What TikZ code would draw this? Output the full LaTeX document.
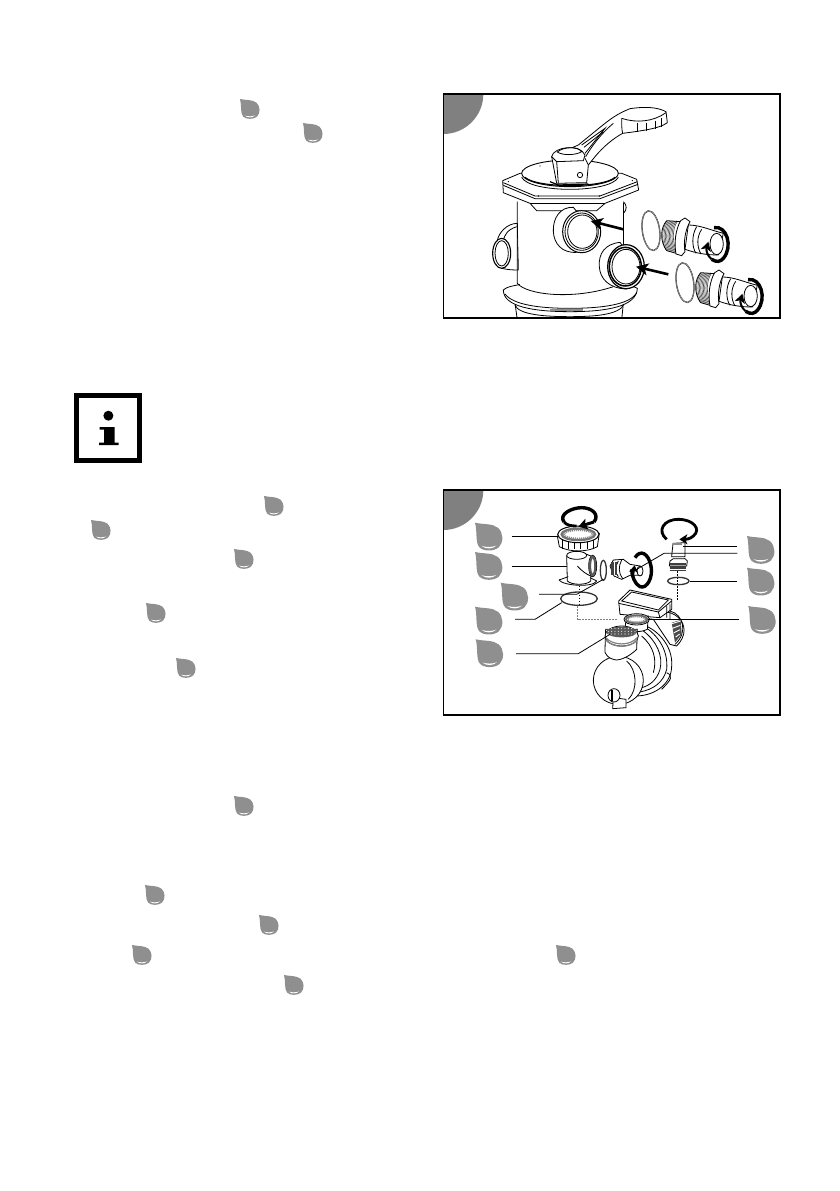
\documentclass[tikz,border=0pt]{standalone}
\usetikzlibrary{arrows.meta}
\definecolor{dropgrey}{gray}{0.56}
\tikzset{
  art/.style={line width=0.8pt,black},
  fillart/.style={art,fill=white},
  panel/.style={draw=black,line width=1.6pt},
  bigarrow/.style={line width=2.6pt,black,-{Stealth[length=12pt,width=12pt,inset=3pt]}},
  turn/.style={line width=3.4pt,black},
  leader/.style={line width=0.8pt,black},
  axis/.style={line width=0.6pt,black,dash pattern=on 1.5pt off 1.5pt},
  faint/.style={line width=0.5pt,gray,dash pattern=on 1.5pt off 1.5pt},
  ring/.style={line width=1.3pt,black!80},
  ringin/.style={line width=0.3pt,black!25},
  zoomA/.style={xshift=440pt,yshift=-90pt,x=0.33333pt,y=-0.33333pt},
  zoomB/.style={xshift=440pt,yshift=-486pt,x=0.33333pt,y=-0.33333pt},
  dropmark/.pic={
    \fill[dropgrey] (0,0) .. controls (0.3,0.07) and (0.62,0.02) .. (0.82,0.18)
      .. controls (1.02,0.36) and (1.03,0.7) .. (0.85,0.88)
      .. controls (0.68,1.03) and (0.3,1.03) .. (0.16,0.88)
      .. controls (0.0,0.72) and (0.09,0.3) .. (0,0) -- cycle;
    \fill[white] (0.24,0.83) .. controls (0.4,0.88) and (0.6,0.88) .. (0.76,0.82)
      .. controls (0.62,0.95) and (0.38,0.95) .. (0.24,0.83) -- cycle;
  },
}
\newcommand{\fittingart}{%
  % o-ring
  \draw[ring,rotate around={8:(633,422)}] (633,422) ellipse [x radius=26,y radius=60];
  \draw[ringin,rotate around={8:(633,422)}] (633,422) ellipse [x radius=26,y radius=60];
  % tube end
  \draw[fillart] (745,405) .. controls (780,405) and (810,420) .. (850,430)
     -- (835,495) .. controls (800,495) and (770,490) .. (735,478) -- cycle;
  \draw[fillart] (830,462) ellipse [x radius=20,y radius=32];
  \draw[art] (770,410) .. controls (755,435) and (755,470) .. (768,490);
  \draw[art] (785,418) .. controls (770,440) and (770,470) .. (783,492);
  % thread
  \fill[white] (680,392) -- (722,395) .. controls (708,425) and (704,460) .. (708,490) -- (680,482) .. controls (660,455) and (662,415) .. (680,392) -- cycle;
  \foreach \q in {0,4,...,32}{
    \draw[line width=0.6pt,black!70] (680+\q,394) .. controls (664+\q,418) and (664+\q,458) .. (680+\q,482+\q*0.2);
  }
  \draw[art] (680,392) -- (722,395) (708,490) -- (680,482);
  \draw[art] (680,392) .. controls (660,415) and (660,455) .. (680,482);
  % hex
  \draw[fillart] (722,392) -- (735,384) -- (750,395) .. controls (735,420) and (730,460) .. (735,485)
     -- (725,497) -- (708,492) .. controls (702,460) and (706,420) .. (722,392) -- cycle;
  % turning arrow
  \draw[turn] (822,413) .. controls (860,405) and (880,470) .. (850,505) .. controls (842,515) and (830,518) .. (815,508);
  \draw[line width=2pt,black,-{Stealth[length=9pt,width=10pt,inset=2pt]}] (815,508) .. controls (800,495) and (798,480) .. (805,455);
}
\newcommand{\dropat}[3]{\begin{scope}[shift={(#1,#2)},x=#3pt,y=-#3pt]\pic at (0,0) {dropmark};\end{scope}}
\newcommand{\cornerdisc}{\fill[black!50] (10,12) -- (130,12) arc[start angle=0,end angle=90,x radius=120,y radius=120] -- cycle;}
\begin{document}
\begin{tikzpicture}[x=1pt,y=-1pt]
\useasboundingbox (0,0) rectangle (839,1191);
\fill[white] (0,0) rectangle (839,1191);
% drop marks in the page
\foreach \a/\b in {240/99,303/123,264/496,91/520,234/549,146/603,176/658,234/796,145/885,259/915,132/945,556/945,284/975}{
  \dropat{\a}{\b}{20}
}
% ===== info symbol
\draw[line width=5pt,black] (76.5,395.8) rectangle (139.2,460.5);
\fill[black] (108.4,415.7) circle (5);
\fill[black] (99.5,427) -- (114.5,427) -- (114.5,442.5) -- (118.5,442.5) -- (118.5,445) -- (99,445) -- (99,442.5) -- (104,442.5) -- (104,429.5) -- (99.5,429.5) -- cycle;
% ===== panel A
\begin{scope}[zoomA]
  \clip (10,12) rectangle (1020,683);
  \cornerdisc
  % base disc
  \draw[art] (225,640) -- (232,690);
  \draw[art] (550,640) -- (545,690);
  \draw[fillart] (190,600) .. controls (190,650) and (280,665) .. (390,665) .. controls (500,665) and (590,650) .. (592,595) .. controls (560,570) and (220,565) .. (190,600) -- cycle;
  \draw[art] (195,612) .. controls (220,645) and (300,655) .. (390,655) .. controls (480,655) and (570,645) .. (590,608);
  \draw[art] (225,645) .. controls (235,675) and (320,680) .. (390,680) .. controls (460,680) and (540,675) .. (552,642);
  \fill[black!45] (330,658) rectangle (430,663);
  \draw[art] (232,685) -- (300,688) (460,688) -- (540,686);
  % left port
  \draw[fillart] (232,400) .. controls (200,400) and (175,430) .. (172,452) -- (185,535) .. controls (205,540) and (225,540) .. (235,540) -- cycle;
  \draw[art] (230,410) .. controls (200,420) and (195,435) .. (190,450);
  \draw[fillart,line width=1.1pt] (185,490) ellipse [x radius=27,y radius=45];
  \draw[art] (185,490) ellipse [x radius=20,y radius=38];
  % body
  \fill[white] (232,335) -- (550,335) -- (550,590) -- (480,610) .. controls (400,625) and (300,620) .. (240,588) -- cycle;
  \draw[art] (232,335) -- (232,580) .. controls (260,615) and (400,630) .. (520,590);
  \draw[art] (550,340) -- (550,470);
  \draw[art] (550,335) .. controls (562,345) and (560,360) .. (552,368);
  % flange
  \draw[fillart,line join=round] (188,272) -- (240,250) -- (545,250) -- (590,268) -- (596,300) -- (495,340) -- (470,362) -- (290,362) -- (270,340) -- (190,308) -- cycle;
  \draw[art] (190,278) -- (285,318) -- (480,318) -- (592,275);
  \draw[art] (190,286) -- (285,326) -- (480,326) -- (594,283);
  \draw[art] (270,340) -- (495,340);
  \fill[black] (205,275) circle (2) (295,318) circle (2.5) (478,318) circle (2.5) (577,272) circle (2);
  % dome
  \draw[fillart,line width=0.9pt] (390,250) ellipse [x radius=145,y radius=40];
  \draw[art] (245,262) .. controls (270,310) and (510,310) .. (535,262);
  \draw[line width=1.2pt] (255,262) .. controls (290,295) and (490,295) .. (525,262);
  \fill[black] (300,228) circle (2);
  % handle
  \draw[fillart,line join=round] (415,165) -- (480,112) .. controls (510,88) and (530,72) .. (570,56)
    .. controls (610,50) and (650,50) .. (678,65) -- (682,98) .. controls (660,115) and (610,122) .. (548,130)
    .. controls (520,145) and (490,170) .. (465,200) -- (445,225) -- (440,278) -- (350,280) -- (335,200) -- cycle;
  \draw[art] (545,85) .. controls (545,105) and (545,118) .. (548,130);
  \draw[art] (592,98) -- (592,126) (620,98) -- (620,122) (645,92) -- (645,118) (665,85) -- (665,110);
  \draw[art] (545,85) .. controls (590,100) and (640,95) .. (678,68);
  \draw[art] (425,165) -- (495,115) -- (435,190);
  \draw[art] (432,172) -- (490,125);
  \draw[art] (520,100) .. controls (490,125) and (460,160) .. (437,200);
  \draw[fillart] (335,200) .. controls (340,170) and (420,160) .. (435,195) -- (430,212) -- (350,215) -- cycle;
  \draw[art] (352,186) .. controls (370,170) and (415,168) .. (425,185) .. controls (410,195) and (370,198) .. (352,186) -- cycle;
  \draw[art] (350,215) -- (355,280) (435,205) -- (445,225);
  \draw[art] (420,255) circle (8);
  \draw[line width=1.2pt] (330,275) -- (355,285) -- (445,282);
  % ports on body
  \draw[fillart] (400,352) .. controls (360,350) and (338,385) .. (340,425) .. controls (342,460) and (365,490) .. (410,487) -- (470,440) -- cycle;
  \draw[fillart,line width=1pt] (425,425) ellipse [x radius=57,y radius=63];
  \draw[art] (425,425) ellipse [x radius=50,y radius=56];
  \draw[art] (427,425) ellipse [x radius=44,y radius=50];
  \draw[fillart] (540,457) .. controls (495,462) and (475,490) .. (478,530) .. controls (480,565) and (505,595) .. (560,597) -- (600,540) -- cycle;
  \draw[fillart,line width=1.2pt] (558,530) ellipse [x radius=55,y radius=66];
  \draw[line width=1.5pt] (556,530) ellipse [x radius=48,y radius=58];
  \draw[art] (558,530) ellipse [x radius=42,y radius=52];
  % push arrows
  \draw[bigarrow] (550,418) -- (452,393);
  \draw[bigarrow] (685,553) -- (588,530);
  % fittings with turning arrows
  \fittingart
  \begin{scope}[shift={(102,156)}]\fittingart\end{scope}
\end{scope}
\draw[panel] (443.3,94) rectangle (780,317.7);
% ===== panel B
\begin{scope}[zoomB]
  \begin{scope}
  \clip (10,12) rectangle (1020,686);
  \cornerdisc
  \end{scope}
  % axes
  \draw[axis] (417,185) -- (417,200) (417,290) -- (417,360);
  \draw[faint] (413,360) -- (413,400) -- (535,400);
  \draw[axis] (733,180) -- (733,222) (712,255) -- (712,345);
  % pump volute
  \draw[fillart] (600,395) .. controls (700,340) and (770,420) .. (710,480) -- (690,475) -- (640,400) -- cycle;
  \draw[art] (690,375) .. controls (730,385) and (745,440) .. (705,475);
  \fill[black!70] (695,410) -- (722,402) -- (725,445) -- (705,470) -- cycle;
  \foreach \s in {0,1,2,3}{\draw[line width=0.9pt,white] (692+\s*5,414+\s*13) -- (722-\s*1,405+\s*13);}
  \draw[fillart] (585,410) .. controls (650,420) and (700,480) .. (695,540) .. controls (695,590) and (650,628) .. (590,630) -- (520,520) -- cycle;
  \draw[art] (610,420) .. controls (660,450) and (685,500) .. (680,550) .. controls (670,590) and (640,610) .. (600,618);
  \draw[art] (610,435) .. controls (650,465) and (670,510) .. (660,550) .. controls (650,585) and (625,600) .. (605,605);
  \draw[art] (605,450) .. controls (640,480) and (652,520) .. (640,560);
  \draw[art] (680,560) .. controls (700,570) and (695,580) .. (665,610);
  % lid
  \draw[fillart,line join=round] (536,345) -- (570,312) -- (695,340) -- (695,370) -- (660,395) -- (540,385) -- cycle;
  \draw[art] (536,352) -- (655,378) -- (695,345);
  \draw[art] (545,345) -- (575,318) -- (685,342) -- (655,372) -- cycle;
  \draw[art] (655,378) -- (660,395) (680,360) -- (680,395) (690,355) -- (690,400);
  % filter connection
  \draw[fillart] (560,390) -- (625,390) -- (622,430) .. controls (600,440) and (570,440) .. (555,425) -- cycle;
  \draw[fillart] (590,400) ellipse [x radius=38,y radius=17];
  \draw[line width=1.8pt,black!60] (590,400) ellipse [x radius=32,y radius=12];
  \draw[line width=1.5pt,black!50,dash pattern=on 1pt off 1pt] (590,400) ellipse [x radius=27,y radius=8];
  % pot
  \draw[fillart] (535,583) ellipse [x radius=75,y radius=72];
  \draw[art] (560,525) .. controls (590,550) and (595,610) .. (565,640);
  \draw[fillart] (497,430) -- (495,490) .. controls (490,500) and (505,520) .. (530,522) .. controls (555,520) and (580,500) .. (590,490) -- (592,430) -- cycle;
  \draw[fillart] (545,450) ellipse [x radius=50,y radius=30];
  \fill[black!65] (545,438) ellipse [x radius=46,y radius=16];
  \foreach \i in {505,515,...,585}\foreach \j in {428,436,444}{\fill[white] (\i,\j) circle (1.7);}
  \draw[line width=1.2pt,black!50] (497,455) .. controls (520,480) and (570,480) .. (592,455);
  \draw[line width=1.2pt,black!50] (497,462) .. controls (520,487) and (570,487) .. (592,462);
  % plug
  \draw[fillart] (520,635) -- (518,668) -- (558,665) -- (558,640) -- cycle;
  \draw[fillart] (522,628) ellipse [x radius=18,y radius=20];
  \draw[line width=2pt] (515,612) -- (515,645);
  % union nut
  \draw[fillart] (352,150) -- (358,182) .. controls (390,200) and (445,198) .. (472,182) -- (478,142) -- cycle;
  \foreach \u in {366,384,402,422,442,460}{\draw[line width=1pt] (\u,155) -- (\u,190);}
  \draw[fillart,line width=1pt] (415,145) ellipse [x radius=62,y radius=25];
  \draw[line width=2.4pt,black!55] (415,145) ellipse [x radius=50,y radius=17];
  \draw[line width=1.6pt,black!45,dash pattern=on 1pt off 1pt] (415,145) ellipse [x radius=43,y radius=12];
  % turning arrows top
  \draw[turn] (372,108) .. controls (355,85) and (395,65) .. (425,65) .. controls (455,65) and (480,85) .. (462,108);
  \draw[turn,line width=2.8pt] (372,108) .. controls (380,118) and (395,120) .. (410,120);
  \draw[black,line width=3pt,-{Stealth[length=9pt,width=11pt,inset=2pt]}] (462,108) -- (415,122);
  \draw[turn,line width=2.8pt,-{Stealth[length=8pt,width=10pt,inset=2pt]}] (680,160) .. controls (650,135) and (670,100) .. (715,100) .. controls (760,100) and (785,130) .. (760,150) .. controls (750,160) and (735,160) .. (718,160);
  % elbow
  \draw[fillart] (380,210) -- (382,285) .. controls (395,298) and (440,298) .. (452,285) -- (452,272) -- (465,265) -- (465,215) -- (440,205) -- cycle;
  \draw[fillart] (410,208) ellipse [x radius=30,y radius=12];
  \draw[art] (412,240) .. controls (425,255) and (440,265) .. (452,270);
  \draw[fillart] (458,240) ellipse [x radius=12,y radius=32];
  \draw[line width=2.2pt,black!65] (458,240) ellipse [x radius=8,y radius=27];
  % lower flange & rings
  \draw[art] (357,282) .. controls (370,300) and (460,305) .. (470,285);
  \draw[art] (357,282) -- (385,272) (470,285) -- (450,275);
  \draw[ring] (417,338) ellipse [x radius=55,y radius=20];
  \draw[ring] (490,253) ellipse [x radius=9,y radius=30];
  \draw[ring] (715,285) ellipse [x radius=32,y radius=11];
  % left fitting
  \draw[fillart] (510,240) -- (520,222) -- (550,220) -- (570,235) -- (600,240) -- (605,268) -- (570,268) -- (545,280) -- (522,270) -- cycle;
  \draw[art] (535,225) .. controls (525,240) and (525,262) .. (535,272);
  \draw[art] (545,222) .. controls (535,240) and (535,262) .. (548,278);
  \foreach \t in {513,517,...,529}{\draw[line width=0.6pt,black!75] (\t,228) -- (\t,268);}
  \draw[fillart] (600,255) ellipse [x radius=9,y radius=15];
  \draw[turn] (585,215) .. controls (600,190) and (625,200) .. (633,240) .. controls (640,275) and (620,310) .. (600,302) .. controls (585,295) and (575,270) .. (575,250);
  \draw[turn,line width=2pt,-{Stealth[length=7pt,width=9pt,inset=2pt]}] (578,275) -- (584,238);
  % right pipe and fitting
  \draw[fillart] (699,172) .. controls (698,190) and (695,200) .. (695,212) -- (735,212) -- (735,170) -- cycle;
  \fill[black!45] (700,170) rectangle (726,178);
  \draw[fillart] (690,225) -- (700,218) -- (735,218) -- (742,225) -- (740,240) -- (688,240) -- cycle;
  \foreach \r in {232,236,...,252}{\draw[line width=0.8pt,black!75] (689,\r) -- (739,\r);}
  % leaders
  \draw[leader] (215,151) -- (355,151);
  \draw[leader] (215,240) -- (382,240);
  \draw[leader] (297,325) -- (410,325) -- (490,280);
  \draw[leader] (225,400) -- (285,400) -- (365,350);
  \draw[leader] (228,503) -- (415,503) -- (510,445);
  \draw[leader] (892,182) -- (730,182);
  \draw[leader] (892,202) -- (672,202) -- (580,256);
  \draw[leader] (892,287) -- (750,287);
  \draw[leader] (897,400) -- (625,400);
\end{scope}
\foreach \a/\b in {475/522.7,475/552,500.7/582.7,475/606.7,475.7/639.3,747/536,747/567.7,748.3/606}{
  \dropat{\a}{\b}{28}
}
\draw[panel] (443.3,490) rectangle (780,714.7);
\end{tikzpicture}
\end{document}
